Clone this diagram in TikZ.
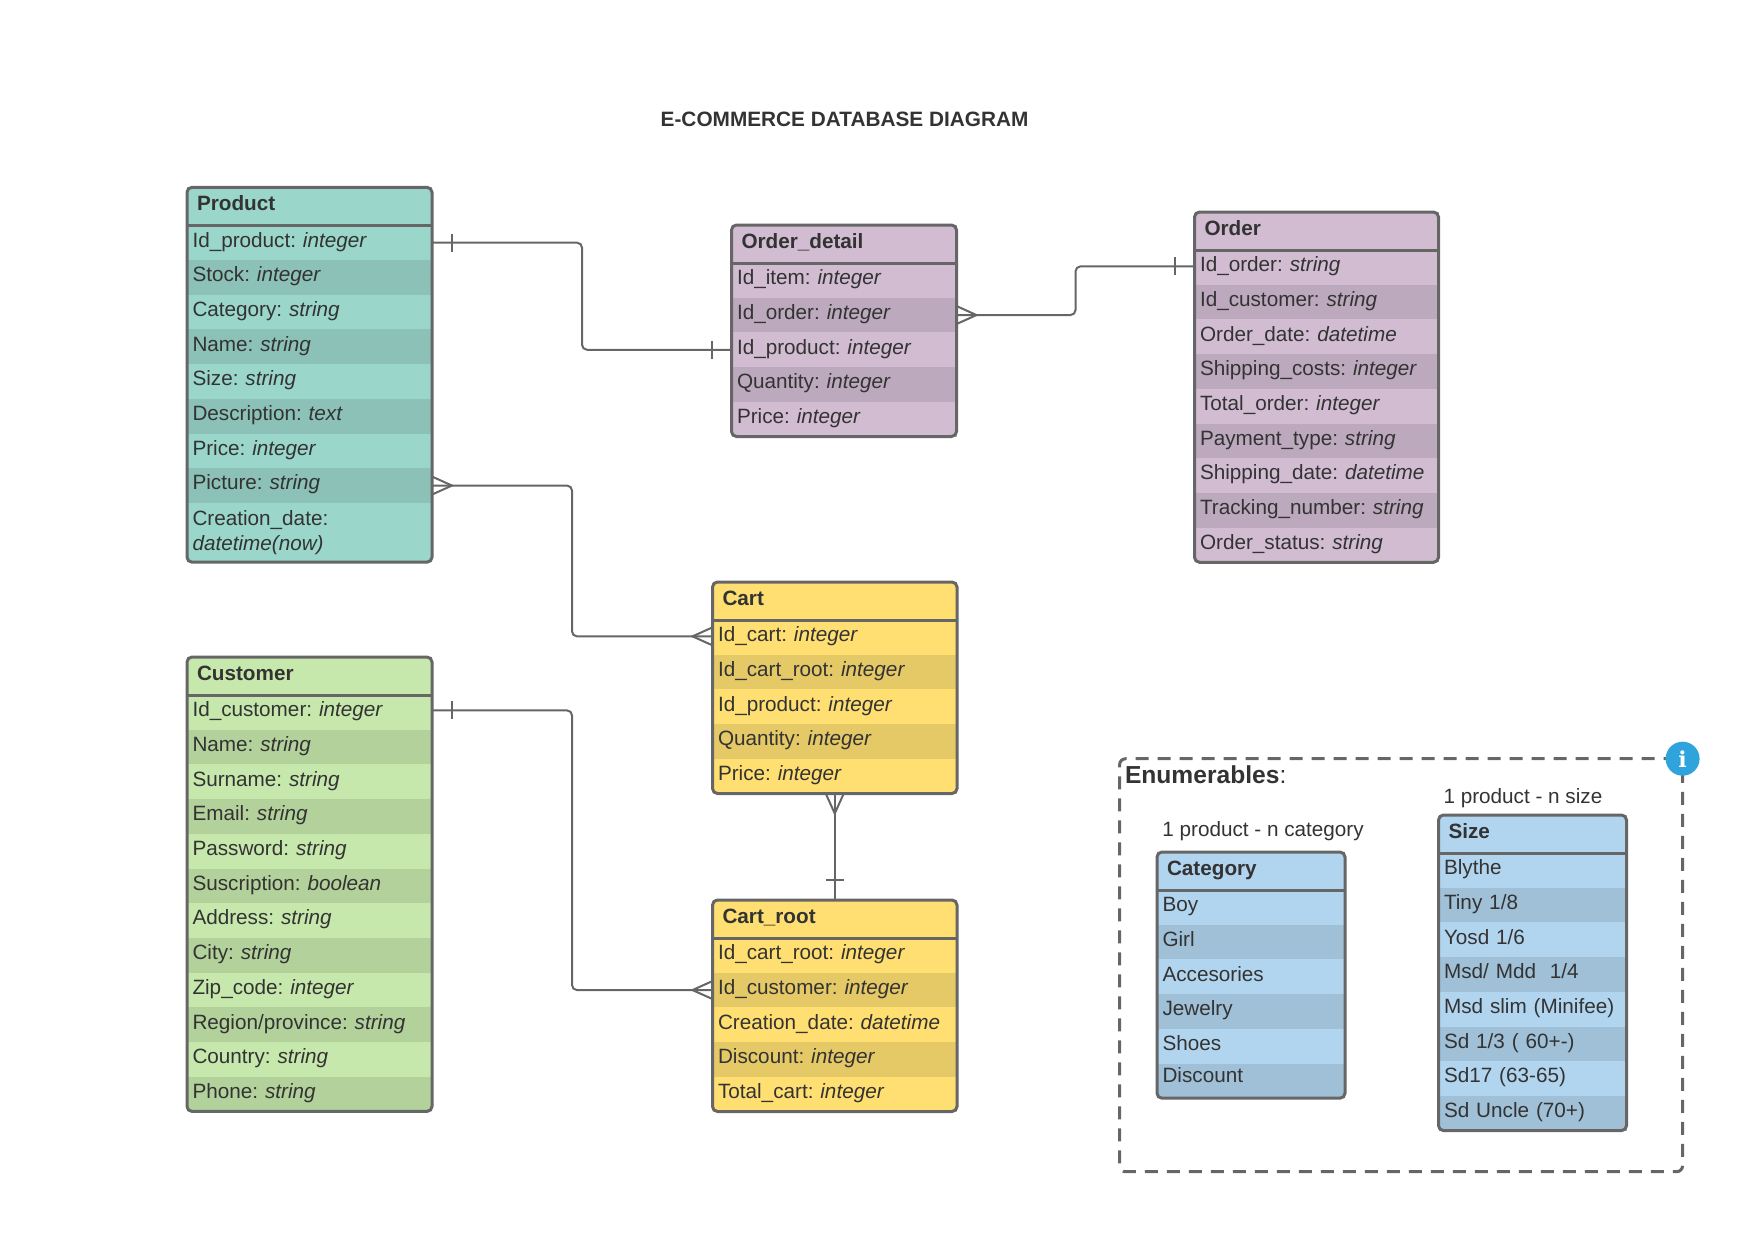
\documentclass[tikz,border=0pt]{standalone}
\usepackage{fontspec}
\setmainfont{Liberation Sans}
\newfontfamily\iconfont{DejaVu Serif}
\usetikzlibrary{fit}
\usetikzlibrary{positioning}
\definecolor{ink}{HTML}{333333}
\definecolor{edge}{HTML}{666666}
\definecolor{teal-row}{HTML}{9AD6CA}
\definecolor{green-row}{HTML}{C7E8AC}
\definecolor{mauve-row}{HTML}{D1BCD2}
\definecolor{yellow-row}{HTML}{FFDF71}
\definecolor{blue-row}{HTML}{B2D5EF}
\definecolor{info-blue}{HTML}{2FA4DC}
\frenchspacing
\begin{document}
\begin{tikzpicture}[
  x=1pt, y=-1pt,
  every node/.style={outer sep=0pt, text=ink, font=\fontsize{20.7}{25}\selectfont},
  tint/.style 2 args={
    entityhead/.style={fill=#1, text width=#2pt-9pt, inner xsep=10pt, inner ysep=0pt, align=left, text height=23pt, text depth=15pt, font=\fontsize{20.7}{25}\selectfont\bfseries},
    rowa/.style={fill=#1, text width=#2pt, inner xsep=5.5pt, inner ysep=0pt, align=left, text height=21.7pt, text depth=13pt},
    rowb/.style={rowa, fill=#1!90!black},
    rowtall/.style={fill=#1, text width=#2pt, inner xsep=5.5pt, inner ysep=7.5pt, align=left, below=0pt of prod8}
  },
  tablebox/.style={draw=edge, line width=3pt, rounded corners=5pt, inner sep=0pt},
  headline/.style={draw=edge, line width=3pt},
  link/.style={draw=edge, line width=2pt, rounded corners=5pt},
  caption/.style={anchor=base west, inner sep=0pt},
  tickmark/.pic={\draw[link, sharp corners] (20,-9) -- (20,9);},
  crowfoot/.pic={\draw[link, sharp corners] (0,-9) -- (20,0) -- (0,9);}
]
\useasboundingbox (0,0) rectangle (1754,1240);

% Title
\node[font=\fontsize{20.8}{25}\selectfont\bfseries] (title) at (844.6,119) {E-COMMERCE DATABASE DIAGRAM};

% Product
\begin{scope}[tint={teal-row}{234}]
\node[entityhead, anchor=north west] (product) at (187,187.3) {Product};
\node[rowa, below=0pt of product] (prod1) {Id\_product: \textit{integer}};
\node[rowb, below=0pt of prod1] (prod2) {Stock: \textit{integer}};
\node[rowa, below=0pt of prod2] (prod3) {Category: \textit{string}};
\node[rowb, below=0pt of prod3] (prod4) {Name: \textit{string}};
\node[rowa, below=0pt of prod4] (prod5) {Size: \textit{string}};
\node[rowb, below=0pt of prod5] (prod6) {Description: \textit{text}};
\node[rowa, below=0pt of prod6] (prod7) {Price: \textit{integer}};
\node[rowb, below=0pt of prod7] (prod8) {Picture: \textit{string}};
\node[rowtall] (prod9) {Creation\_date:\\\textit{datetime(now)}};
\end{scope}
\node[tablebox, fit=(product)(prod9)] (productbox) {};
\draw[headline] (product.south west) -- (product.south east);

% Customer
\begin{scope}[tint={green-row}{234}]
\node[entityhead, anchor=north west] (customer) at (187,657) {Customer};
\node[rowa, below=0pt of customer] (cust1) {Id\_customer: \textit{integer}};
\node[rowb, below=0pt of cust1] (cust2) {Name: \textit{string}};
\node[rowa, below=0pt of cust2] (cust3) {Surname: \textit{string}};
\node[rowb, below=0pt of cust3] (cust4) {Email: \textit{string}};
\node[rowa, below=0pt of cust4] (cust5) {Password: \textit{string}};
\node[rowb, below=0pt of cust5] (cust6) {Suscription: \textit{boolean}};
\node[rowa, below=0pt of cust6] (cust7) {Address: \textit{string}};
\node[rowb, below=0pt of cust7] (cust8) {City: \textit{string}};
\node[rowa, below=0pt of cust8] (cust9) {Zip\_code: \textit{integer}};
\node[rowb, below=0pt of cust9] (cust10) {Region/province: \textit{string}};
\node[rowa, below=0pt of cust10] (cust11) {Country: \textit{string}};
\node[rowb, below=0pt of cust11] (cust12) {Phone: \textit{string}};
\end{scope}
\node[tablebox, fit=(customer)(cust12)] (customerbox) {};
\draw[headline] (customer.south west) -- (customer.south east);

% Order detail
\begin{scope}[tint={mauve-row}{214}]
\node[entityhead, anchor=north west] (orderdetail) at (731.5,225) {Order\_detail};
\node[rowa, below=0pt of orderdetail] (odet1) {Id\_item: \textit{integer}};
\node[rowb, below=0pt of odet1] (odet2) {Id\_order: \textit{integer}};
\node[rowa, below=0pt of odet2] (odet3) {Id\_product: \textit{integer}};
\node[rowb, below=0pt of odet3] (odet4) {Quantity: \textit{integer}};
\node[rowa, below=0pt of odet4] (odet5) {Price: \textit{integer}};
\end{scope}
\node[tablebox, fit=(orderdetail)(odet5)] (orderdetailbox) {};
\draw[headline] (orderdetail.south west) -- (orderdetail.south east);

% Order
\begin{scope}[tint={mauve-row}{233}]
\node[entityhead, anchor=north west] (order) at (1194.5,212) {Order};
\node[rowa, below=0pt of order] (ord1) {Id\_order: \textit{string}};
\node[rowb, below=0pt of ord1] (ord2) {Id\_customer: \textit{string}};
\node[rowa, below=0pt of ord2] (ord3) {Order\_date: \textit{datetime}};
\node[rowb, below=0pt of ord3] (ord4) {Shipping\_costs: \textit{integer}};
\node[rowa, below=0pt of ord4] (ord5) {Total\_order: \textit{integer}};
\node[rowb, below=0pt of ord5] (ord6) {Payment\_type: \textit{string}};
\node[rowa, below=0pt of ord6] (ord7) {Shipping\_date: \textit{datetime}};
\node[rowb, below=0pt of ord7] (ord8) {Tracking\_number: \textit{string}};
\node[rowa, below=0pt of ord8] (ord9) {Order\_status: \textit{string}};
\end{scope}
\node[tablebox, fit=(order)(ord9)] (orderbox) {};
\draw[headline] (order.south west) -- (order.south east);

% Cart
\begin{scope}[tint={yellow-row}{233.5}]
\node[entityhead, anchor=north west] (cart) at (712.5,582) {Cart};
\node[rowa, below=0pt of cart] (cart1) {Id\_cart: \textit{integer}};
\node[rowb, below=0pt of cart1] (cart2) {Id\_cart\_root: \textit{integer}};
\node[rowa, below=0pt of cart2] (cart3) {Id\_product: \textit{integer}};
\node[rowb, below=0pt of cart3] (cart4) {Quantity: \textit{integer}};
\node[rowa, below=0pt of cart4] (cart5) {Price: \textit{integer}};
\end{scope}
\node[tablebox, fit=(cart)(cart5)] (cartbox) {};
\draw[headline] (cart.south west) -- (cart.south east);

% Cart root
\begin{scope}[tint={yellow-row}{233.5}]
\node[entityhead, anchor=north west] (cartroot) at (712.5,900) {Cart\_root};
\node[rowa, below=0pt of cartroot] (root1) {Id\_cart\_root: \textit{integer}};
\node[rowb, below=0pt of root1] (root2) {Id\_customer: \textit{integer}};
\node[rowa, below=0pt of root2] (root3) {Creation\_date: \textit{datetime}};
\node[rowb, below=0pt of root3] (root4) {Discount: \textit{integer}};
\node[rowa, below=0pt of root4] (root5) {Total\_cart: \textit{integer}};
\end{scope}
\node[tablebox, fit=(cartroot)(root5)] (cartrootbox) {};
\draw[headline] (cartroot.south west) -- (cartroot.south east);

% Enumerables
\node[draw=edge, line width=3pt, dash pattern=on 13pt off 9pt, rounded corners=6pt, minimum width=563pt, minimum height=413pt, anchor=north west] (enums) at (1119.6,758.7) {};
\node[circle, fill=info-blue, minimum size=34pt, inner sep=0pt, text=white, font=\fontsize{22}{22}\iconfont\bfseries] (info) at (enums.north east) {i};
\node[caption, font=\fontsize{24.6}{25}\selectfont] (enumtitle) at (1125,783) {\textbf{Enumerables}:};
\node[caption] (catnote) at (1162.4,836) {1 product - n category};
\node[caption] (sizenote) at (1443.5,803) {1 product - n size};

% Category
\begin{scope}[tint={blue-row}{177}]
\node[entityhead, anchor=north west] (category) at (1157,852) {Category};
\node[rowa, below=0pt of category] (cat1) {Boy};
\node[rowb, below=0pt of cat1] (cat2) {Girl};
\node[rowa, below=0pt of cat2] (cat3) {Accesories};
\node[rowb, below=0pt of cat3] (cat4) {Jewelry};
\node[rowa, below=0pt of cat4] (cat5) {Shoes};
\node[rowb, below=0pt of cat5, text height=18.5pt, text depth=16.2pt] (cat6) {Discount};
\end{scope}
\node[tablebox, fit=(category)(cat6)] (categorybox) {};
\draw[headline] (category.south west) -- (category.south east);

% Size
\begin{scope}[tint={blue-row}{177}]
\node[entityhead, anchor=north west] (size) at (1438.5,815) {Size};
\node[rowa, below=0pt of size] (size1) {Blythe};
\node[rowb, below=0pt of size1] (size2) {Tiny 1/8};
\node[rowa, below=0pt of size2] (size3) {Yosd 1/6};
\node[rowb, below=0pt of size3] (size4) {Msd/ Mdd\ \ 1/4};
\node[rowa, below=0pt of size4] (size5) {Msd slim (Minifee)};
\node[rowb, below=0pt of size5] (size6) {Sd 1/3 ( 60+-)};
\node[rowa, below=0pt of size6] (size7) {Sd17 (63-65)};
\node[rowb, below=0pt of size7] (size8) {Sd Uncle (70+)};
\end{scope}
\node[tablebox, fit=(size)(size8)] (sizebox) {};
\draw[headline] (size.south west) -- (size.south east);

% Edges
\coordinate (bendone) at (582,300);
\coordinate (bendtwo) at (572,560);
\coordinate (bendthree) at (1075.5,290);
\coordinate (bendfour) at (572,850);
\draw[link] (prod1.east) -| (bendone) |- (odet3.west);
\draw[link] (prod8.east) -| (bendtwo) |- ([yshift=1pt]cart1.west);
\draw[link] (odet2.east) -| (bendthree) |- ([yshift=1pt]ord1.west);
\draw[link] ([yshift=2pt]cust1.east) -| (bendfour) |- (root2.west);
\draw[link] (cart5.south) -- (cartroot.north);

% Line ends
\pic at (prod1.east) {tickmark};
\pic[rotate=180] at (odet3.west) {tickmark};
\pic at (prod8.east) {crowfoot};
\pic[rotate=180] at ([yshift=1pt]cart1.west) {crowfoot};
\pic at (odet2.east) {crowfoot};
\pic[rotate=180] at ([yshift=1pt]ord1.west) {tickmark};
\pic at ([yshift=2pt]cust1.east) {tickmark};
\pic[rotate=180] at (root2.west) {crowfoot};
\pic[rotate=-90] at (cart5.south) {crowfoot};
\pic[rotate=90] at (cartroot.north) {tickmark};
\end{tikzpicture}
\end{document}
